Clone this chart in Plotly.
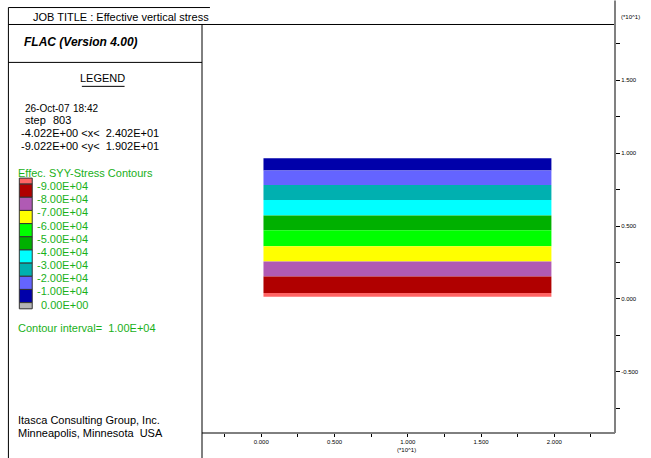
import plotly.graph_objects as go

# ---------------- data ----------------
contour_levels = ["-9.00E+04", "-8.00E+04", "-7.00E+04", "-6.00E+04", "-5.00E+04",
                  "-4.00E+04", "-3.00E+04", "-2.00E+04", "-1.00E+04", "0.00E+00"]
legend_colors = ["#FF6464", "#B00000", "#B05AB4", "#FFFF00", "#00FF00", "#00B000",
                 "#00FFFF", "#00B0B0", "#6464FF", "#0000AA", "#B4B4B4"]
# bands in the model, top to bottom
band_colors = ["#0000AA", "#6464FF", "#00B0B0", "#00FFFF", "#00B000", "#00FF00",
               "#FFFF00", "#B05AB4", "#B00000", "#FF6464"]
band_edges_y = [9.66, 8.81, 7.81, 6.78, 5.73, 4.71, 3.61, 2.56, 1.53, 0.41, 0.14]
grid_x = [0.15, 19.8]

x_tickvals = [0, 5, 10, 15, 20]
x_ticktext = ["0.000", "0.500", "1.000", "1.500", "2.000"]
y_tickvals = [-5, 0, 5, 10, 15]
y_ticktext = ["-0.500", "0.000", "0.500", "1.000", "1.500"]
x_range = [-4.045, 24.14]
y_range = [-9.21, 18.87]

# ---------------- layout helpers ----------------
W, H = 651, 458
L, R, T, B = 202, 618, 23.5, 433.5
FONT = "Arial, Liberation Sans, sans-serif"


def px(x):
    return (x - L) / (R - L)


def py(y):
    return (B - y) / (B - T)


fig = go.Figure()

for i, c in enumerate(band_colors):
    top, bot = band_edges_y[i], band_edges_y[i + 1]
    fig.add_trace(go.Scatter(
        x=[grid_x[0], grid_x[1], grid_x[1], grid_x[0], grid_x[0]],
        y=[top, top, bot, bot, top],
        mode="lines", fill="toself", fillcolor=c,
        line=dict(width=0, color=c), hoverinfo="skip", showlegend=False))

shapes = []


def line(x0, y0, x1, y1, color="black", width=1):
    shapes.append(dict(type="line", xref="paper", yref="paper",
                       x0=px(x0), y0=py(y0), x1=px(x1), y1=py(y1),
                       line=dict(color=color, width=width)))


# frame
line(7, 7, 210, 7)
line(7, 24, 618, 24)
line(7, 7, 7, 460)
line(202, 24, 202, 460)
line(7, 62, 202, 62)
line(202, 433.5, 618, 433.5)
line(618, 0, 618, 433.5, color="#808080", width=2)
line(81, 86, 124, 86)

# legend colour boxes
box_edges = [178, 184] + [184 + 13.2 * k for k in range(1, 10)] + [309]
for i, c in enumerate(legend_colors):
    shapes.append(dict(type="rect", xref="paper", yref="paper",
                       x0=px(18), x1=px(31), y0=py(box_edges[i]), y1=py(box_edges[i + 1]),
                       fillcolor=c, line=dict(color="#333333", width=1)))

annotations = []


def text(x, y, s, size=11, color="black", anchor="left", **kw):
    # compensate the annotation's inner padding for left/right anchors
    if anchor == "left":
        x -= 3
    elif anchor == "right":
        x += 3
    annotations.append(dict(x=px(x), y=py(y), xref="paper", yref="paper", text=s,
                            showarrow=False, xanchor=anchor, yanchor="middle",
                            font=dict(family=FONT, size=size, color=color), **kw))


GREEN = "#19B019"
text(33, 16, "JOB TITLE : Effective vertical stress")
text(24, 42, "<b><i>FLAC (Version 4.00)</i></b>", size=12)
text(102, 78, "LEGEND", anchor="center")
text(25, 108, "26-Oct-07", size=10)
text(73, 108, "18:42", size=10)
text(25, 120, "step")
text(53, 120, "803")
text(21, 133, "-4.022E+00 &lt;x&lt;  2.402E+01")
text(21, 146, "-9.022E+00 &lt;y&lt;  1.902E+01")
text(18, 173, "Effec. SYY-Stress Contours", color=GREEN)
for i, lab in enumerate(contour_levels):
    text(86, 186 + 13.2 * i, lab, color=GREEN, anchor="right")
text(18, 328, "Contour interval=  1.00E+04", color=GREEN)
text(18, 420, "Itasca Consulting Group, Inc.")
text(18, 434, "Minneapolis, Minnesota  USA")
text(625, 16, "(*10^1)", size=6)
text(408, 451, "(*10^1)", size=6, anchor="center")

fig.update_layout(
    width=W, height=H,
    margin=dict(l=L, r=W - R, t=T, b=H - B, pad=0),
    paper_bgcolor="white", plot_bgcolor="white",
    shapes=shapes, annotations=annotations,
    showlegend=False,
    xaxis=dict(range=x_range, showgrid=False, zeroline=False, showline=False,
               tickvals=x_tickvals, ticktext=x_ticktext, ticks="outside", ticklen=3,
               tickcolor="black", tickfont=dict(family=FONT, size=6, color="black"),
               minor=dict(tickvals=[-2.5, 2.5, 7.5, 12.5, 17.5, 22.5], ticks="outside",
                          ticklen=3, tickcolor="black"),
               fixedrange=True),
    yaxis=dict(range=y_range, side="right", showgrid=False, zeroline=False, showline=False,
               tickvals=y_tickvals, ticktext=y_ticktext, ticks="outside", ticklen=4,
               tickcolor="black", tickfont=dict(family=FONT, size=6, color="black"),
               minor=dict(tickvals=[-7.5, -2.5, 2.5, 7.5, 12.5, 17.5], ticks="outside",
                          ticklen=4, tickcolor="black"),
               fixedrange=True),
)

fig.write_html("out.html", config={"displayModeBar": False},
               post_script="document.body.style.margin='0';")
